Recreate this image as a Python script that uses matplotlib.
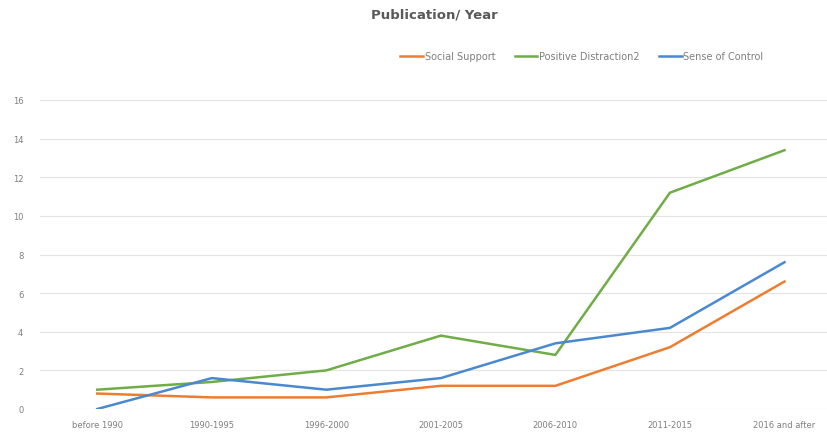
import matplotlib
matplotlib.use("Agg")
import matplotlib.pyplot as plt

categories = ["before 1990", "1990-1995", "1996-2000", "2001-2005", "2006-2010", "2011-2015", "2016 and after"]
social_support = [0.8, 0.6, 0.6, 1.2, 1.2, 3.2, 6.6]
positive_distraction = [1.0, 1.4, 2.0, 3.8, 2.8, 11.2, 13.4]
sense_of_control = [0.0, 1.6, 1.0, 1.6, 3.4, 4.2, 7.6]
yticks = [0, 2, 4, 6, 8, 10, 12, 14, 16]

fig = plt.figure(figsize=(8.28, 4.35), dpi=100)
ax = fig.add_axes([40/828, 25/435, 1 - 40/828, (410-101)/435])

x = list(range(len(categories)))
ax.plot(x, social_support, color="#ED7D31", lw=1.8, label="Social Support", solid_joinstyle="round")
ax.plot(x, positive_distraction, color="#70AD47", lw=1.8, label="Positive Distraction2", solid_joinstyle="round")
ax.plot(x, sense_of_control, color="#4A89CF", lw=1.8, label="Sense of Control", solid_joinstyle="round")

ax.set_xlim(-0.5, 6.38)
ax.set_ylim(0, 16)
ax.set_yticks(yticks)
ax.set_yticklabels([str(t) for t in yticks])
ax.set_xticks(x)
ax.set_xticklabels(categories)
ax.grid(axis="y", color="#E3E3E3", lw=0.8)
ax.set_axisbelow(True)
for s in ax.spines.values():
    s.set_visible(False)
ax.tick_params(axis="both", length=0, labelsize=6, colors="#7F7F7F")
ax.tick_params(axis="y", pad=12)
ax.tick_params(axis="x", pad=8)

fig.text(434/828, 1 - 15/435, "Publication/ Year", ha="center", va="center",
         fontsize=9.5, color="#595959", fontweight="bold")

leg = fig.legend(loc="center", bbox_to_anchor=(582/828, 1 - 57/435), ncol=3, frameon=False,
                 fontsize=7, handlelength=2.3, columnspacing=2.0, handletextpad=0.2)
for t in leg.get_texts():
    t.set_color("#7F7F7F")

fig.savefig("out.png", dpi=100)
